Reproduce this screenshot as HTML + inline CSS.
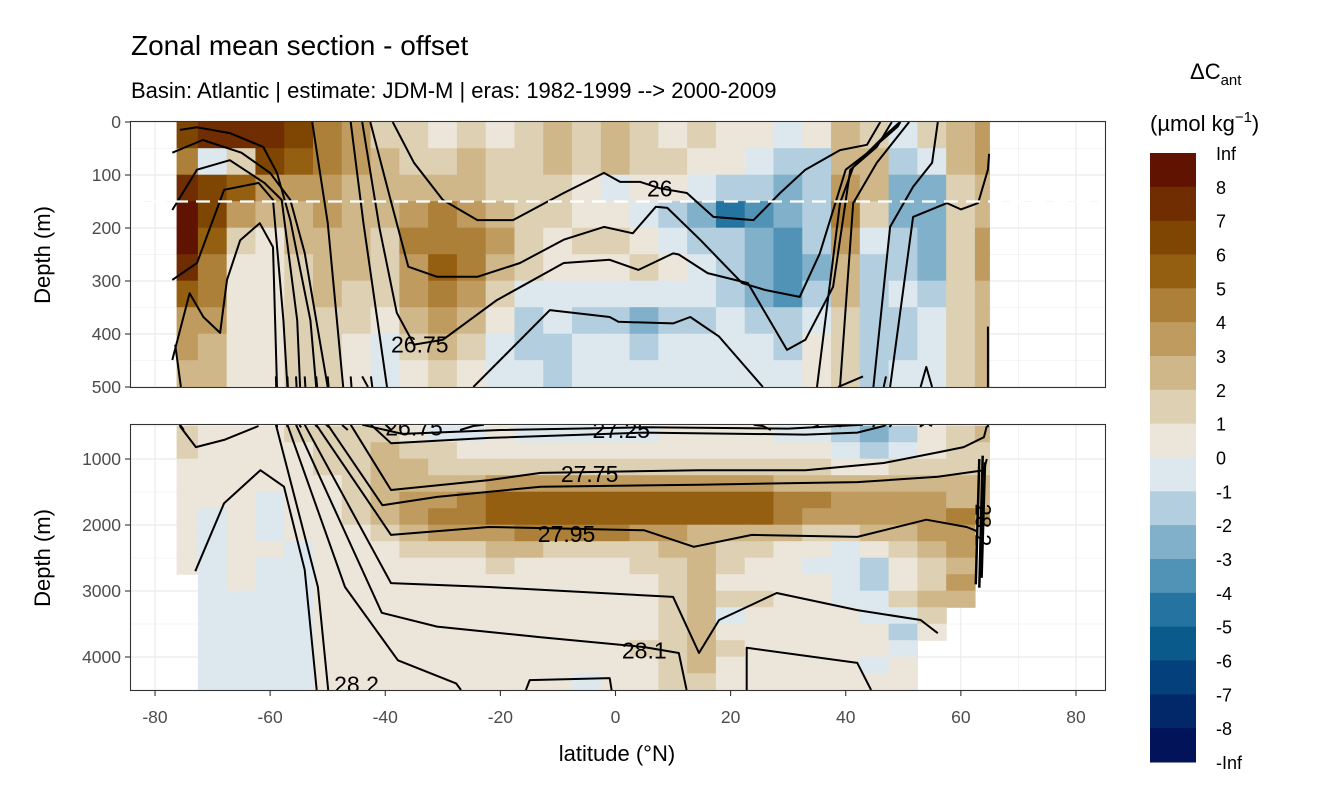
<!DOCTYPE html>
<html><head><meta charset="utf-8">
<style>
html,body{margin:0;padding:0;background:#fff;overflow:hidden;}
body{width:1344px;height:806px;overflow:hidden;font-family:"Liberation Sans",sans-serif;}
svg{display:block;}
svg text{font-family:"Liberation Sans",sans-serif;}
</style></head>
<body>
<svg id="chart" width="1344" height="806" viewBox="0 0 1344 806" xmlns="http://www.w3.org/2000/svg">
<defs>
<clipPath id="clipTop"><rect x="130" y="122" width="975" height="265"/></clipPath>
<clipPath id="clipBot"><rect x="130" y="425" width="975" height="265"/></clipPath>
</defs>
<text x="131" y="55" font-size="28" fill="#000">Zonal mean section - offset</text>
<text x="131" y="98" font-size="22" fill="#000">Basin: Atlantic | estimate: JDM-M | eras: 1982-1999 --&gt; 2000-2009</text>
<g id="gridTop"></g>
<g id="gridBot"></g>
<g id="fillTop" clip-path="url(#clipTop)"></g>
<g id="fillBot" clip-path="url(#clipBot)"></g>
<g id="linesTop" clip-path="url(#clipTop)"></g>
<g id="linesBot" clip-path="url(#clipBot)"></g>
<line x1="130" x2="1105" y1="201.5" y2="201.5" stroke="#fff" stroke-width="2.2" stroke-dasharray="14,8"/>
<g id="labelsTop" clip-path="url(#clipTop)"></g>
<g id="labelsBot" clip-path="url(#clipBot)"></g>
<rect x="130.5" y="121.5" width="975" height="266" fill="none" stroke="#333" stroke-width="1.1"/>
<rect x="130.5" y="424.5" width="975" height="266" fill="none" stroke="#333" stroke-width="1.1"/>
<g id="axes"></g>
<text transform="translate(50,255) rotate(-90)" text-anchor="middle" font-size="22" fill="#000">Depth (m)</text>
<text transform="translate(50,558) rotate(-90)" text-anchor="middle" font-size="22" fill="#000">Depth (m)</text>
<text x="617" y="761" text-anchor="middle" font-size="22" fill="#000">latitude (°N)</text>
<g id="legend">
<text x="1190" y="79" font-size="22" fill="#000">ΔC<tspan font-size="15" dy="6">ant</tspan></text>
<text x="1150" y="131" font-size="22" fill="#000">(µmol kg<tspan font-size="15" dy="-9">−1</tspan><tspan dy="9">)</tspan></text>
</g>
</svg>
<script>
// ---- data ----
const lats = [-75,-70,-65,-60,-55,-50,-45,-40,-35,-30,-25,-20,-15,-10,-5,0,5,10,15,20,25,30,35,40,45,50,55,60,65];
const depthsTop = [25,75,125,175,225,275,325,375,425,475];
const depthsBot = [625,875,1125,1375,1625,1875,2125,2375,2625,2875,3125,3375,3625,3875,4125,4375];
const t25 =[6,7.5,7.5,7.5,6,4.5,3,1.5,1.5,0.5,1.5,0.5,1.5,2,1.5,2.5,1.5,0.5,1.5,0.5,0.5,-0.5,0.5,2.5,1.5,-0.5,1.5,2.5,3.5];
const t75 =[4,-1,1,6,5.5,4,3,2,1.5,1.5,2.5,1.5,1.5,2.5,1.5,2,1.5,1.5,0.5,0.5,-0.5,-1.5,-1.5,2,2.5,-1.5,-0.5,2.5,3.5];
const t125=[7.5,6.5,5,3.5,3.5,3.5,2.5,2,2,2.5,2,1.5,1.5,1.5,0.5,-0.5,0.5,0.5,-0.5,-1.5,-1.5,-2.5,-1.5,3.5,2.5,-2.5,-2.5,1.5,2.5];
const t175=[8.5,6,3.5,2.5,2.5,3,2.5,2,3.5,4.5,3.5,2.5,1.5,1.5,0.5,0.5,-0.5,-1.5,-2.5,-4.5,-3.5,-2.5,-1.5,4.5,1.5,-2.5,-2.5,1.5,2.5];
const t225=[8.5,5.5,1.5,0.5,2.5,2.5,2.5,1.5,4,4.5,4,3,1.5,0.5,1.5,1.5,0.5,-0.5,-1.5,-1.5,-2.5,-3.5,-1.5,3.5,-0.5,-1.5,-2.5,1.5,3];
const t275=[7.5,4.5,0.5,0.5,1.5,2.5,2.5,1.5,3.5,5.5,4.5,2.5,1.5,0.5,0.5,0.5,1.5,0.5,-0.5,-1.5,-2.5,-3.5,-2.5,2.5,-1.5,-1.5,-2.5,1.5,3];
const t325=[5.5,4.5,0.5,0.5,1.5,2.5,1.5,1.5,3.5,4.5,3.5,1.5,-0.5,-0.5,-0.5,-0.5,-0.5,-0.5,-0.5,-1.5,-2.5,-3.5,-1.5,2.5,-1.5,-0.5,-1.5,1.5,2.5];
const t375=[3.5,3.5,0.5,0.5,1.5,1.5,1.5,0.5,2.5,3.5,2.5,0.5,-1.5,-0.5,-1.5,-1.5,-2.5,-1.5,-1.5,-0.5,-1.5,-1.5,-0.5,1.5,-1.5,-1.5,-0.5,1.5,2.5];
const t425=[3.5,2.5,0.5,0.5,1.5,1.5,0.5,-0.5,1.5,2.5,1.5,-0.5,-1.5,-1.5,-0.5,-0.5,-1.5,-0.5,-0.5,-0.5,-0.5,-1.5,0.5,1.5,-1.5,-1.5,-0.5,1.5,2.5];
const t475=[2.5,2.5,0.5,0.5,1.5,1.5,0.5,-0.5,0.5,1.5,0.5,-0.5,-0.5,-1.5,-0.5,-0.5,-0.5,-0.5,-0.5,-0.5,-0.5,-0.5,0.5,1.5,-1.5,-0.5,-0.5,1.5,2.5];
const b625 =[1.5,0.5,0.5,0.5,1.5,1.5,1.5,1.5,0.5,-0.5,-0.5,0.5,-0.5,-0.5,-0.5,-0.5,-0.5,0.5,0.5,0.5,0.5,-0.5,-0.5,-1.5,-2.5,-1.5,0.5,1.5,2.5];
const b875 =[1.5,0.5,0.5,0.5,0.5,1.5,1.5,2.5,1.5,1.5,0.5,0.5,0.5,0.5,0.5,0.5,0.5,0.5,0.5,0.5,0.5,0.5,0.5,-0.5,-1.5,-0.5,0.5,1.5,1.5];
const b1125=[0.5,0.5,0.5,0.5,0.5,1.5,1.5,2.5,2.5,1.5,1.5,1.5,1.5,1.5,1.5,1.5,1.5,1.5,1.5,1.5,1.5,1.5,1.5,0.5,0.5,1.5,1.5,1.5,1.5];
const b1375=[0.5,0.5,0.5,0.5,0.5,0.5,1.5,2.5,2.5,2.5,2.5,3.5,3.5,3.5,3.5,3.5,3.5,3.5,3.5,3.5,3.5,2.5,2.5,2.5,2.5,2.5,2.5,2.5,2.5];
const b1625=[0.5,0.5,0.5,-0.5,0.5,0.5,1.5,2.5,3.5,3.5,4.5,5.5,5.5,5.5,5.5,5.5,5.5,5.5,5.5,5.5,5.5,4.5,4.5,3.5,3.5,3.5,3.5,2.5,2.5];
const b1875=[0.5,-0.5,0.5,-0.5,0.5,0.5,1.5,2.5,3.5,4.5,4.5,5.5,5.5,5.5,5.5,5.5,5.5,5.5,5.5,5.5,5.5,4.5,3.5,3.5,3.5,3.5,3.5,4,3.5];
const b2125=[0.5,-0.5,0.5,-0.5,0.5,0.5,0.5,1.5,2.5,3.5,3.5,3.5,4.5,4.5,4.5,4.5,3.5,3.5,2.5,2.5,2.5,2.5,1.5,1.5,2.5,2.5,3.5,3.5,null];
const b2375=[0.5,-0.5,0.5,0.5,-0.5,0.5,0.5,0.5,1.5,1.5,1.5,2.5,2.5,1.5,1.5,1.5,1.5,2.5,2.5,1.5,1.5,0.5,0.5,-0.5,0.5,1.5,2.5,3.5,null];
const b2625=[0.5,-0.5,0.5,-0.5,-0.5,0.5,0.5,0.5,0.5,0.5,0.5,1.5,0.5,0.5,0.5,0.5,1.5,1.5,2.5,1.5,0.5,0.5,-0.5,-0.5,-1.5,0.5,1.5,2.5,null];
const b2875=[null,-0.5,0.5,-0.5,-0.5,0.5,0.5,0.5,0.5,0.5,0.5,0.5,0.5,0.5,0.5,0.5,0.5,1.5,2.5,0.5,0.5,0.5,0.5,-0.5,-1.5,0.5,1.5,3.5,null];
const b3125=[null,-0.5,-0.5,-0.5,-0.5,0.5,0.5,0.5,0.5,0.5,0.5,0.5,0.5,0.5,0.5,0.5,0.5,1.5,2.5,1.5,1.5,0.5,0.5,-0.5,-0.5,1.5,2.5,2.5,null];
const b3375=[null,-0.5,-0.5,-0.5,-0.5,0.5,0.5,0.5,0.5,0.5,0.5,0.5,0.5,0.5,0.5,0.5,0.5,1.5,2.5,-0.5,0.5,0.5,0.5,0.5,-0.5,-0.5,1.5,null,null];
const b3625=[null,-0.5,-0.5,-0.5,-0.5,0.5,0.5,0.5,0.5,0.5,0.5,0.5,0.5,0.5,0.5,0.5,0.5,1.5,2.5,0.5,0.5,0.5,0.5,0.5,0.5,-1.5,0.5,null,null];
const b3875=[null,-0.5,-0.5,-0.5,-0.5,0.5,0.5,0.5,0.5,0.5,0.5,0.5,0.5,0.5,0.5,0.5,1.5,1.5,2.5,1.5,0.5,0.5,0.5,0.5,0.5,-0.5,null,null,null];
const b4125=[null,-0.5,-0.5,-0.5,-0.5,0.5,0.5,0.5,0.5,0.5,0.5,0.5,0.5,0.5,0.5,0.5,0.5,1.5,2.5,0.5,0.5,0.5,0.5,0.5,-0.5,0.5,null,null,null];
const b4375=[null,-0.5,-0.5,-0.5,-0.5,0.5,0.5,0.5,0.5,0.5,0.5,0.5,0.5,0.5,-0.5,0.5,0.5,1.5,1.5,0.5,0.5,0.5,0.5,0.5,0.5,0.5,null,null,null];
const rowsTop = [t25,t75,t125,t175,t225,t275,t325,t375,t425,t475];
const rowsBot = [b625,b875,b1125,b1375,b1625,b1875,b2125,b2375,b2625,b2875,b3125,b3375,b3625,b3875,b4125,b4375];
const breaks = [-8,-7,-6,-5,-4,-3,-2,-1,0,1,2,3,4,5,6,7,8];
const palette = ["#02135a","#03286a","#04407c","#0a5a8c","#2573a0","#5193b7","#80b0ca","#b2cedf","#dde8ee","#ece6da","#ded0b3","#cfb789","#c09b5f","#ac8039","#955f12","#7f4503","#702d02","#5f1300"];
const legendLabels = ["Inf","8","7","6","5","4","3","2","1","0","-1","-2","-3","-4","-5","-6","-7","-8","-Inf"];
const xTicks = [-80,-60,-40,-20,0,20,40,60,80];
const yTicksTop = [0,100,200,300,400,500];
const yTicksBot = [1000,2000,3000,4000];
// contour lines [lat, depth]
const contourLines = [
 [[-38.7,0],[-35,77],[-30,147],[-24,185],[-17.8,185],[-9,134],[-2,96],[0.8,113],[4.3,113],[7.7,125],[12.4,134],[17,179],[24,185],[28.6,134],[33,90],[39,53],[43.7,43],[46,0]],
 [[-42.6,0],[-39,150],[-36,273],[-31,292],[-24,292],[-16.6,266],[-9,222],[-2,198],[3,210],[7,160],[9,162],[14.7,222],[22,304],[26,317],[32,330],[35.5,248],[40,90],[43.7,59],[49,9],[49.5,0]],
 [[-44,0],[-41,200],[-38,360],[-35,420],[-30,411],[-20.6,336],[-9,266],[-1,260],[4,279],[10,248],[11,250],[16,285],[23,304],[26,360],[29.8,430],[33,411],[37.8,311],[40.8,90],[45.4,47],[48,0]],
 [[-27,560],[-24.7,500],[-11.4,355],[-1,368],[0.5,377],[10,380],[13,368],[18,405],[25.6,500],[27,560]],
 [[34.3,520],[35,500],[39,153],[41.3,85],[46,34],[49.4,0]],
 [[39,520],[39,500],[41.3,153],[45.4,77],[51,0]],
 [[44.8,520],[44.8,500],[47.7,198],[51.7,122],[55,77],[56,0]],
 [[47.7,520],[47.7,500],[51.7,179],[57.6,153],[60,165],[63,153],[64.7,90],[64.9,60]],
 [[53,520],[53,500],[54,462],[55,500]],
 [[64.7,386],[64.7,520]],
 [[-75.7,15],[-72.7,10],[-67,21],[-61.2,47],[-58.8,96],[-56.5,185],[-53,374],[-52,500],[-51.7,520]],
 [[-77,58],[-71.7,34],[-65,58],[-60,96],[-56.5,147],[-54,247],[-50,500],[-49.8,520]],
 [[-77,166],[-72.7,90],[-67,72],[-61,115],[-58,147],[-55.3,374],[-54.8,500],[-54.6,520]],
 [[-77,298],[-72.7,266],[-68,128],[-62,115],[-59.5,147],[-57.7,374],[-57,500],[-57,520]],
 [[-77,449],[-74,323],[-71.6,368],[-68.7,398],[-67.5,298],[-65.2,223],[-61.8,191],[-59.5,236],[-58.8,500],[-58.8,520]],
 [[-76.5,420],[-75.5,500],[-75,560]],
 [[-52.7,0],[-50,190],[-47.3,500],[-46.5,560]],
 [[-46,0],[-43.8,190],[-39.7,500],[-39,560]],
 [[-46,480],[-39,1470],[-22,1320],[-13,1210],[14.5,1170],[33,1170],[46.6,1060],[56,900],[60.5,820],[64,670],[64.5,500]],
 [[-50,480],[-40.5,1700],[-31,1575],[-13,1420],[14.5,1390],[42,1350],[56,1270],[64,1170],[64.5,1000]],
 [[-52,480],[-39,2150],[-22,2030],[5,2080],[13.6,2330],[23.7,2150],[42,2180],[54,1920],[61,2030],[63,2100]],
 [[-54,480],[-39,2880],[-22,2940],[10,3090],[14.5,3940],[18,3440],[28,3030],[42,3290],[53,3440],[56,3640]],
 [[-55.5,480],[-40.6,3330],[-31,3540],[-13,3700],[5,3850],[11,3940],[12.6,4600]],
 [[-57,480],[-47,2940],[-37.8,4050],[-27.7,4400],[-26,4600]],
 [[-59,480],[-51.7,2940],[-49.8,4600]],
 [[-73,2700],[-68,1670],[-61.7,1170],[-57.6,1420],[-54,2680],[-51.8,4600]],
 [[-75.7,500],[-72.9,820],[-68,710],[-62,500]],
 [[-42.5,480],[-39,760],[-22,680],[5,600],[33,630],[42,600],[46.6,500],[47,480]],
 [[22.8,4600],[22.8,3860],[42,4090],[45,4600]],
 [[-16,4600],[-14.9,4350],[-1,4320],[-0.5,4600]],
 [[-44,480],[-37,620],[-20,560],[5,520],[30,540],[43,480]]
];
const thickLines = [
 [[63.2,1000],[62.6,2900]],
 [[63.8,950],[63.2,2950]],
 [[64.2,1050],[63.6,2800]]
];
const topLabels = [["26",7.7,125],["26.75",-34,420]];
const botLabels = [["27.25",1,560],["26.75",-35,520],["27.75",-4.5,1230],["27.95",-8.5,2140],["28.1",5,3900],["28.2",-45,4420]];

// ---- scales ----
const xS = lat => 615.5 + lat*5.756;
const yTop = d => 122 + d*0.53;
const yBot = d => 459 + (d-1000)*0.066;
const NS = "http://www.w3.org/2000/svg";
function colorOf(v){ let i=0; while(i<breaks.length && v>=breaks[i]) i++; return palette[i]; }
function mk(tag, parent){ const e=document.createElementNS(NS,tag); parent.appendChild(e); return e; }

// clip polyline to depth range -> list of sub-polylines
function clipDepth(pts, dmin, dmax){
  const out=[]; let cur=[];
  const inside=p=>p[1]>=dmin && p[1]<=dmax;
  const cross=(a,b,d)=>[a[0]+(b[0]-a[0])*(d-a[1])/(b[1]-a[1]), d];
  for(let i=0;i<pts.length;i++){
    const p=pts[i];
    if(i===0){ if(inside(p)) cur.push(p); continue; }
    const a=pts[i-1];
    const ai=inside(a), bi=inside(p);
    if(ai && bi){ cur.push(p); }
    else if(ai && !bi){ cur.push(cross(a,p, p[1]>dmax?dmax:dmin)); out.push(cur); cur=[]; }
    else if(!ai && bi){ cur=[cross(a,p, a[1]>dmax?dmax:dmin), p]; }
    else {
      if((a[1]<dmin && p[1]>dmax)||(a[1]>dmax && p[1]<dmin)){
        const e1=cross(a,p, a[1]<dmin?dmin:dmax), e2=cross(a,p, p[1]>dmax?dmax:dmin);
        out.push([e1,e2]);
      }
    }
  }
  if(cur.length>1) out.push(cur);
  return out;
}

// grid
function grid(gid, yf, majors, minors, y0, y1){
  const g=document.getElementById(gid);
  [-70,-50,-30,-10,10,30,50,70].forEach(v=>{const l=mk('line',g);l.setAttribute('x1',xS(v));l.setAttribute('x2',xS(v));l.setAttribute('y1',y0);l.setAttribute('y2',y1);l.setAttribute('stroke','#ebebeb');l.setAttribute('stroke-width','0.6');
    
    });
  minors.forEach(v=>{const l=mk('line',g);l.setAttribute('x1',130);l.setAttribute('x2',1105);l.setAttribute('y1',yf(v));l.setAttribute('y2',yf(v));l.setAttribute('stroke','#ebebeb');l.setAttribute('stroke-width','0.6');
    
    });
  xTicks.forEach(v=>{const l=mk('line',g);l.setAttribute('x1',xS(v));l.setAttribute('x2',xS(v));l.setAttribute('y1',y0);l.setAttribute('y2',y1);l.setAttribute('stroke','#ebebeb');l.setAttribute('stroke-width','1.2');
    
    });
  majors.forEach(v=>{const l=mk('line',g);l.setAttribute('x1',130);l.setAttribute('x2',1105);l.setAttribute('y1',yf(v));l.setAttribute('y2',yf(v));l.setAttribute('stroke','#ebebeb');l.setAttribute('stroke-width','1.2');
    
    });
}
grid('gridTop', yTop, yTicksTop, [50,150,250,350,450], 122, 387);
grid('gridBot', yBot, yTicksBot, [500,1500,2500,3500,4500], 425, 690);

// fill cells
function fill(gid, rows, depths, half, yf){
  const g=document.getElementById(gid);
  rows.forEach((row,ri)=>{
    const d=depths[ri];
    row.forEach((v,ci)=>{
      if(v===null) return;
      const la=Math.max(lats[ci]-2.5,-76.2), lb=Math.min(lats[ci]+2.5,65);
      const r=mk('rect',g);
      r.setAttribute('x',xS(la)-0.3);r.setAttribute('width',xS(lb)-xS(la)+0.6);
      r.setAttribute('y',yf(d-half)-0.3);r.setAttribute('height',yf(d+half)-yf(d-half)+0.6);
      r.setAttribute('fill',colorOf(v));
      
      
    });
  });
}
fill('fillTop', rowsTop, depthsTop, 25, yTop);
fill('fillBot', rowsBot, depthsBot, 125, yBot);

// contours
function drawLines(gid, yf, lines, w, dmin, dmax){
  const g=document.getElementById(gid);
  lines.forEach(pts=>{
    clipDepth(pts,dmin,dmax).forEach(seg=>{
      const p=mk('polyline',g);
      p.setAttribute('points',seg.map(q=>xS(q[0]).toFixed(1)+','+yf(q[1]).toFixed(1)).join(' '));
      p.setAttribute('fill','none');p.setAttribute('stroke','#000');p.setAttribute('stroke-width',w);
      p.setAttribute('stroke-linejoin','round');
      
      
    });
  });
}
drawLines('linesTop', yTop, contourLines, 2, 0, 500);
drawLines('linesBot', yBot, contourLines, 2, 480, 4500);
drawLines('linesBot', yBot, thickLines, 2.5, 480, 4500);

function labels(gid, yf, list){
  const g=document.getElementById(gid);
  list.forEach(L=>{
    const t=mk('text',g); t.textContent=L[0];
    t.setAttribute('x',xS(L[1]));t.setAttribute('y',yf(L[2])+8);
    t.setAttribute('text-anchor','middle');t.setAttribute('font-size','23');
    
    
  });
}
labels('labelsTop', yTop, topLabels);
labels('labelsBot', yBot, botLabels);
{ const g=document.getElementById('labelsBot');
  const t=mk('text',g); t.textContent='28.2';
  t.setAttribute('transform','translate('+(xS(62.5))+','+yBot(2000)+') rotate(90)');
  t.setAttribute('text-anchor','middle');t.setAttribute('font-size','22');
  
   }

// axes
const ax=document.getElementById('axes');
function tickY(yf, vals){
  vals.forEach(v=>{
    const y=yf(v);
    const l=mk('line',ax);l.setAttribute('x1',125);l.setAttribute('x2',130);l.setAttribute('y1',y);l.setAttribute('y2',y);l.setAttribute('stroke','#333');l.setAttribute('stroke-width','1.1');
    
    
    const t=mk('text',ax);t.textContent=v;t.setAttribute('x',121);t.setAttribute('y',y+6);t.setAttribute('text-anchor','end');t.setAttribute('font-size','17.5');t.setAttribute('fill','#4d4d4d');
    
    
  });
}
tickY(yTop, yTicksTop);
tickY(yBot, yTicksBot);
xTicks.forEach(v=>{
  const x=xS(v);
  const l=mk('line',ax);l.setAttribute('x1',x);l.setAttribute('x2',x);l.setAttribute('y1',691);l.setAttribute('y2',696);l.setAttribute('stroke','#333');l.setAttribute('stroke-width','1.1');
  
  
  const t=mk('text',ax);t.textContent=v;t.setAttribute('x',x);t.setAttribute('y',723);t.setAttribute('text-anchor','middle');t.setAttribute('font-size','17.5');t.setAttribute('fill','#4d4d4d');
  
  
});

// legend
const lg=document.getElementById('legend');
const bandH=(762-153)/18;
for(let i=0;i<18;i++){
  const r=mk('rect',lg);
  r.setAttribute('x',1150);r.setAttribute('y',153+i*bandH);r.setAttribute('width',46);r.setAttribute('height',bandH+0.5);
  r.setAttribute('fill',palette[17-i]);
  
  
}
legendLabels.forEach((s,k)=>{
  const t=mk('text',lg);t.textContent=s;t.setAttribute('x',1216);t.setAttribute('y',153+k*bandH+7);t.setAttribute('font-size','18');t.setAttribute('fill','#000');
  
  
});
</script>
</body></html>
